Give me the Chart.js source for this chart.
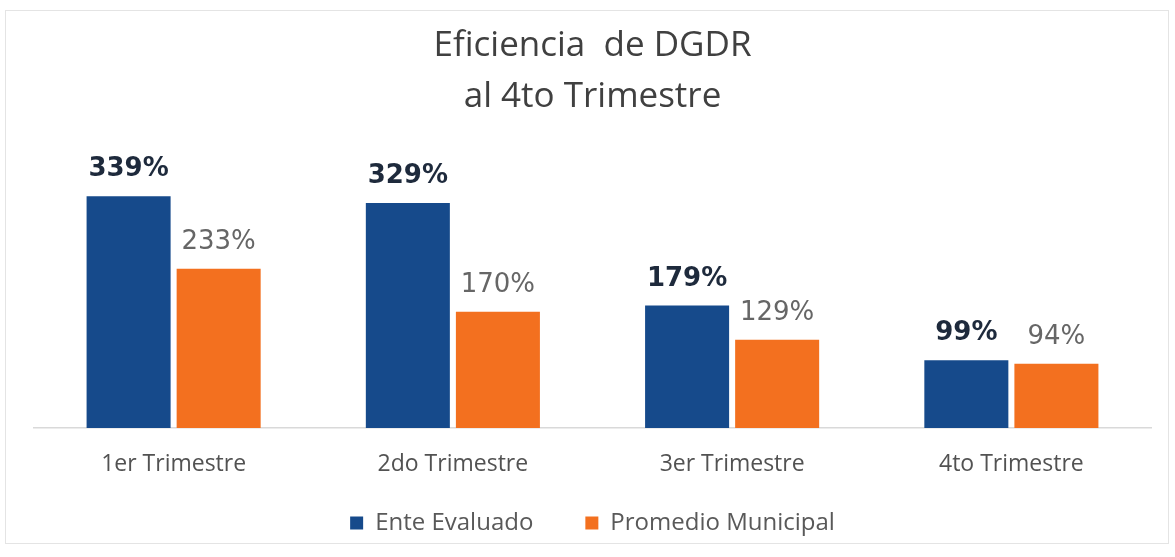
<!DOCTYPE html>
<html>
<head>
<meta charset="utf-8">
<script src="https://cdn.jsdelivr.net/npm/chart.js@4.4.1/dist/chart.umd.min.js"></script>
<style>
  html, body { margin: 0; padding: 0; background: #fff; }
  #wrap { width: 1175px; height: 557px; }
</style>
</head>
<body>
<div id="wrap"><canvas id="chart" width="1175" height="557"></canvas></div>
<script>
// ─── Data ─────────────────────────────────────────────────────────────────────
const categories   = ['1er Trimestre', '2do Trimestre', '3er Trimestre', '4to Trimestre'];
const enteEvaluado = [339, 329, 179, 99];
const promedioMun  = [233, 170, 129, 94];
const seriesNames  = ['Ente Evaluado', 'Promedio Municipal'];

const BLUE   = '#164a8b';
const ORANGE = '#f3701f';

const PAD_BOTTOM  = 12;
const PLOT_BOTTOM = 428; // where the baseline should sit

// value labels above each bar
const barLabels = {
  id: 'barLabels',
  afterDatasetsDraw(chart) {
    const ctx = chart.ctx;
    ctx.save();
    ctx.textAlign = 'center';
    ctx.textBaseline = 'alphabetic';
    chart.data.datasets.forEach((ds, i) => {
      const meta = chart.getDatasetMeta(i);
      ctx.font = i === 0 ? "bold 26px 'DejaVu Sans'" : "26px 'DejaVu Sans'";
      ctx.fillStyle = i === 0 ? '#1e2a3c' : '#666666';
      meta.data.forEach((bar, j) => {
        ctx.fillText(ds.data[j] + '%', bar.x, bar.y - 20);
      });
    });
    ctx.restore();
  }
};

// faint frame round the chart
const frame = {
  id: 'frame',
  beforeDraw(chart) {
    const ctx = chart.ctx;
    ctx.save();
    ctx.strokeStyle = '#e4e4e4';
    ctx.lineWidth = 1;
    ctx.strokeRect(5.5, 10.5, 1163, 533);
    ctx.restore();
  }
};

new Chart(document.getElementById('chart'), {
  type: 'bar',
  data: {
    labels: categories,
    datasets: [
      { label: seriesNames[0], data: enteEvaluado, backgroundColor: BLUE },
      { label: seriesNames[1], data: promedioMun,  backgroundColor: ORANGE },
    ],
  },
  options: {
    responsive: false,
    animation: false,
    categoryPercentage: 0.645,
    barPercentage: 0.933,
    layout: { padding: { left: 34, right: 24, top: 0, bottom: PAD_BOTTOM } },
    plugins: {
      title: {
        display: true,
        text: ['Eficiencia  de DGDR', 'al 4to Trimestre'],
        color: '#404040',
        font: { family: "'Open Sans'", size: 35, weight: 'normal', lineHeight: 1.45 },
        padding: { top: 21, bottom: 32 },
      },
      legend: {
        position: 'bottom',
        labels: {
          boxWidth: 13,
          boxHeight: 13,
          padding: 52,
          color: '#595959',
          font: { family: "'Open Sans'", size: 24 },
        },
      },
      tooltip: { enabled: false },
    },
    scales: {
      x: {
        grid: { display: false, drawTicks: false },
        border: { display: true, color: '#d9d9d9', width: 1.5 },
        ticks: { color: '#525252', padding: 23, font: { family: "'Open Sans'", size: 23 } },
        // squeeze the axis box so the plot reaches the baseline of the picture
        afterFit(scale) {
          const lg = scale.chart.legend;
          const lgH = lg ? lg.height : 0;
          scale.height = Math.max(0, scale.chart.height - PAD_BOTTOM - lgH - PLOT_BOTTOM);
          scale._computeLabelArea = () => undefined; // labels may spill past the squeezed box
        },
      },
      y: {
        display: false,
        min: 0,
        max: 400,
      },
    },
  },
  plugins: [barLabels, frame],
});
</script>
</body>
</html>
